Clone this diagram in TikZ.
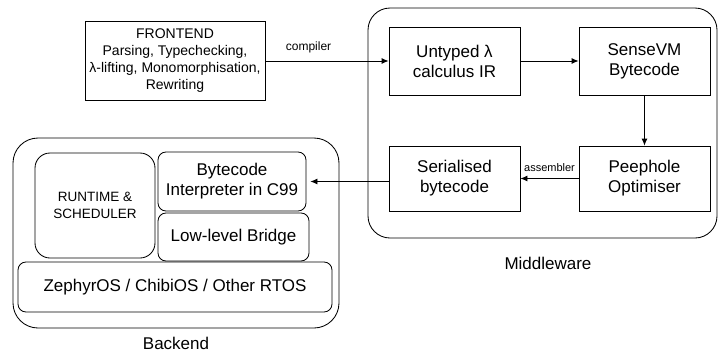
\documentclass[tikz,border=0pt]{standalone}
\usepackage{fontspec}
\setmainfont{Liberation Sans}
\usetikzlibrary{positioning,arrows.meta}

\begin{document}
\begin{tikzpicture}[x=1pt,y=-1pt,>={Latex[length=7pt,width=6pt]},line width=0.85pt]
		\tikzstyle{bloc} = [draw,rectangle,align=center,font=\fontsize{17}{20}\selectfont,minimum width=131pt,minimum height=68pt,inner sep=2pt];
		\tikzstyle{rond} = [draw,rectangle,rounded corners=8pt,align=center,font=\fontsize{17}{20}\selectfont,inner sep=2pt];
		\tikzstyle{etiq} = [font=\fontsize{12}{14}\selectfont];
		
		\useasboundingbox (0,0) rectangle (718,354);
		
		% zones
		\draw[rounded corners=22pt] (368,8) rectangle (717,238);
		\draw[rounded corners=25pt] (13,138) rectangle (339,328);
		\node[font=\fontsize{17}{20}\selectfont] (mw) at (548,263) {Middleware};
		\node[font=\fontsize{17}{20}\selectfont] (be) at (176,343) {Backend};
		
		% frontend
		\node[draw,rectangle,align=center,font=\fontsize{14}{17}\selectfont,minimum width=180pt,minimum height=79pt] (front) at (175,60.5) {FRONTEND\\Parsing, Typechecking,\\λ-lifting, Monomorphisation,\\Rewriting};
		
		% middleware
		\node[bloc] (untyped) at (454.5,61) {Untyped λ\\calculus IR};
		\node[bloc] (sense) at (644.5,61) {SenseVM\\Bytecode};
		\node[bloc,minimum height=65pt] (peep) at (644.5,178.5) {Peephole\\Optimiser};
		\node[bloc,minimum height=65pt] (serial) at (454.5,178.5) {Serialised\\bytecode};
		
		% backend
		\node[rond,rounded corners=15pt,minimum width=120pt,minimum height=105pt,font=\fontsize{13.5}{17}\selectfont] (runtime) at (95,205.5) {RUNTIME \&\\SCHEDULER};
		\node[rond,minimum width=148pt,minimum height=59pt] (interp) at (232,181.5) {Bytecode\\Interpreter in C99};
		\node[rond,minimum width=151pt,minimum height=48pt] (bridge) at (233.5,237) {Low-level Bridge};
		\node[rond,minimum width=314pt,minimum height=50pt] (rtos) at (175,287) {ZephyrOS / ChibiOS / Other RTOS};
		
		
		\draw[->] (front.east |- untyped.west) -- (untyped.west) node[etiq,pos=0.35,above=4pt] {compiler};
		\draw[->] (untyped) -- (sense);
		\draw[->] (sense) -- (peep);
		\draw[->] (peep) -- (serial) node[etiq,font=\fontsize{11}{13}\selectfont,midway,above=3pt] {assembler};
		\draw[->] (serial.west |- interp.east) -- ([xshift=4pt]interp.east);
		
		
	\end{tikzpicture}
\end{document}
